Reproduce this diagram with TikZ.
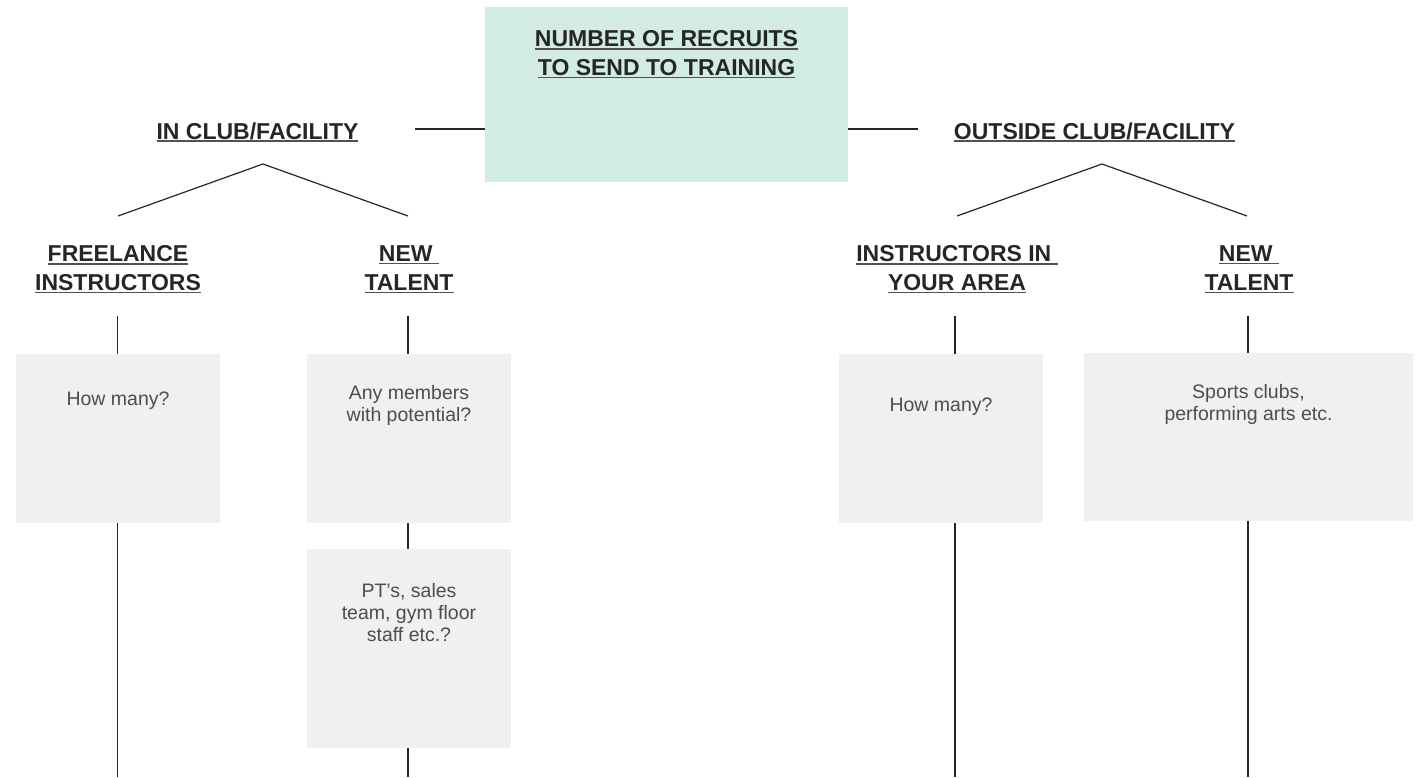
\documentclass[tikz,border=0pt]{standalone}
\usepackage{fontspec}
\setmainfont{Liberation Sans}
\usetikzlibrary{positioning}

\definecolor{mint}{HTML}{D2EBE3}
\definecolor{boxgray}{HTML}{F0F0F0}
\definecolor{ink}{HTML}{262626}
\definecolor{txtgray}{HTML}{4D4D4D}

\newcommand{\ul}[1]{\setbox0=\hbox{#1}\rlap{\color{ink!80}\rule[-2.8pt]{\wd0}{1.5pt}}\box0}

\tikzset{
  head/.style={font=\fontsize{23}{28.8}\selectfont\bfseries, text=ink, align=center, inner sep=0pt},
  txt/.style={font=\fontsize{19.5}{22}\selectfont, text=txtgray, align=center, inner sep=0pt},
  goal/.style={fill=mint, minimum width=363pt, minimum height=175pt, inner sep=0pt},
  card/.style={fill=boxgray, minimum width=204pt, inner sep=0pt},
  link/.style={draw=ink, line width=1.2pt},
}

\begin{document}
\begin{tikzpicture}[x=1pt, y=-1pt]

\def\xA{117.5}
\def\xB{408}
\def\xC{955}
\def\xD{1248}
\def\yH{245.5}
\def\yT{316}
\def\yE{777}

\useasboundingbox (0,0) rectangle (1418,777);

\node[goal] (goal) at (666.5,94.5) {};
\node[head, anchor=north] (title) at (666.5,30.5) {\ul{NUMBER OF RECRUITS}\\\ul{TO SEND TO TRAINING}};

\node[head, anchor=base] (inclub) at (257.5,139) {\ul{IN CLUB/FACILITY}};
\node[head, anchor=base] (outclub) at (1094.5,139) {\ul{OUTSIDE CLUB/FACILITY}};

\coordinate (lt) at (415,129);
\coordinate (rt) at (918,129);
\draw[link] (lt) -- (goal.west |- lt);
\draw[link] (goal.east |- rt) -- (rt);

\coordinate (lapex) at (263,164);
\coordinate (lfoot1) at (118,216);
\coordinate (lfoot2) at (408,216);
\coordinate (rapex) at (1102,164);
\coordinate (rfoot1) at (957,216);
\coordinate (rfoot2) at (1247,216);
\draw[link] (lfoot1) -- (lapex) -- (lfoot2);
\draw[link] (rfoot1) -- (rapex) -- (rfoot2);

\node[head, anchor=north] (freel) at (118,\yH) {\ul{FREELANCE}\\\ul{INSTRUCTORS}};
\node[head, anchor=north] (newin) at (409,\yH) {\ul{NEW\ }\\\ul{TALENT}};
\node[head, anchor=north] (area) at (957,\yH) {\ul{INSTRUCTORS IN\ }\\\ul{YOUR AREA}};
\node[head, anchor=north] (newout) at (1249,\yH) {\ul{NEW\ }\\\ul{TALENT}};

\node[card, minimum height=169pt] (fi) at (118,438.5) {};
\node[card, minimum height=169pt] (nt) at (409,438.5) {};
\node[card, minimum height=199pt] (st) at (409,648.5) {};
\node[card, minimum height=169pt] (ar) at (941,438.5) {};
\node[card, minimum width=329pt, minimum height=168pt] (ot) at (1248.5,437) {};

\node[txt, below=37.5pt of fi.north] (fi-t) {How many?};
\node[txt, below=31pt of nt.north] (nt-t) {Any members\\with potential?};
\node[txt, below=34pt of st.north] (st-t) {PT’s, sales\\team, gym floor\\staff etc.?};
\node[txt, below=44pt of ar.north] (ar-t) {How many?};
\node[txt, below=31pt of ot.north] (ot-t) {Sports clubs,\\performing arts etc.};

\coordinate (fi-top) at (\xA,\yT);
\coordinate (nt-top) at (\xB,\yT);
\coordinate (ar-top) at (\xC,\yT);
\coordinate (ot-top) at (\xD,\yT);
\coordinate (fi-end) at (\xA,\yE);
\coordinate (nt-end) at (\xB,\yE);
\coordinate (ar-end) at (\xC,\yE);
\coordinate (ot-end) at (\xD,\yE);

\draw[link] (fi-top) -- (fi-top |- fi.north);
\draw[link] (fi-top |- fi.south) -- (fi-end);
\draw[link] (nt-top) -- (nt-top |- nt.north);
\draw[link] (nt-top |- nt.south) -- (nt-top |- st.north);
\draw[link] (nt-top |- st.south) -- (nt-end);
\draw[link] (ar-top) -- (ar-top |- ar.north);
\draw[link] (ar-top |- ar.south) -- (ar-end);
\draw[link] (ot-top) -- (ot-top |- ot.north);
\draw[link] (ot-top |- ot.south) -- (ot-end);

\end{tikzpicture}
\end{document}
